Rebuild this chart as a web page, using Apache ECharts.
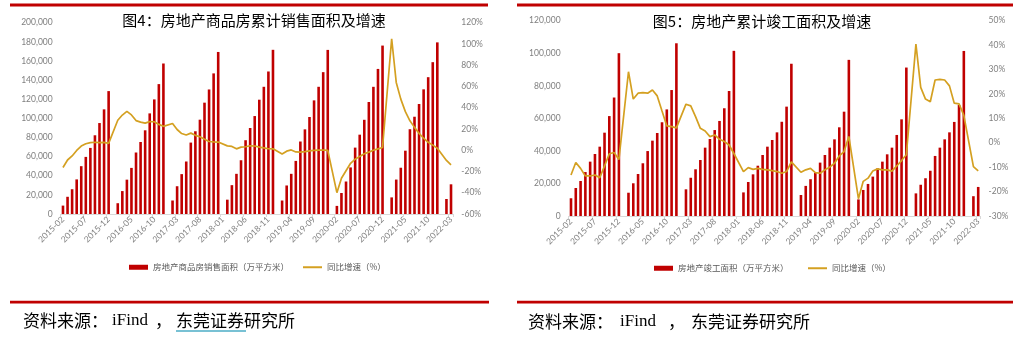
<!DOCTYPE html>
<html>
<head>
<meta charset="utf-8">
<script src="https://cdn.jsdelivr.net/npm/echarts@6/dist/echarts.min.js"></script>
<style>
  html, body { margin: 0; padding: 0; background: #ffffff; }
  #chart { width: 1023px; height: 337px; }
</style>
</head>
<body>
<div id="chart"></div>
<script>
// Monthly categories 2015-02 .. 2022-03 (January is reported together with February, so it stays empty)
const months = [];
for (let y = 2015; y <= 2022; y++) {
  for (let m = 1; m <= 12; m++) {
    if (y === 2015 && m < 2) continue;
    if (y === 2022 && m > 3) break;
    months.push(y + '-' + (m < 10 ? '0' + m : m));
  }
}

// 图4: 商品房累计销售面积 (万平方米)
const salesArea = [
  8786, 18000, 25900, 36178, 50000, 59700, 69100, 82300, 95100, 109400, 128495,
  null,
  11285, 23969, 35900, 48200, 64302, 75300, 87500, 105185, 119800, 135806, 157349,
  null,
  14112, 29035, 41700, 54900, 74662, 86500, 98600, 116400, 130200, 147000, 169408,
  null,
  14981, 30158, 42000, 56200, 77143, 89900, 102400, 119500, 133000, 149000, 171654,
  null,
  14102, 29829, 42000, 55500, 75786, 88500, 101400, 118800, 133000, 148300, 171558,
  null,
  8475, 21978, 33973, 48703, 69404, 82939, 98486, 117073, 132970, 151674, 176086,
  null,
  17363, 36007, 48378, 66194, 88635, 101693, 115005, 130332, 143041, 158730, 179433,
  null,
  15703, 31046
];
// 图4: 同比增速 (%)
const salesYoY = [
  -16.3, -9.2, -5.4, -0.2, 3.9, 6.1, 7.2, 7.5, 7.2, 7.4, 6.5,
  null,
  28.2, 33.1, 36.5, 33.2, 27.9, 26.4, 25.5, 26.9, 26.8, 24.3, 22.5,
  null,
  25.1, 19.5, 15.7, 14.3, 16.1, 14.0, 12.7, 10.3, 8.2, 7.9, 7.7,
  null,
  4.1, 3.6, 1.3, 2.9, 3.3, 4.2, 4.0, 2.9, 2.2, 1.4, 1.3,
  null,
  -3.6, -0.9, 0.3, -1.6, -1.8, -1.3, -0.6, -0.1, 0.1, 0.2, -0.1,
  null,
  -39.9, -26.3, -19.3, -12.3, -8.4, -5.8, -3.3, -1.8, 0.0, 1.3, 2.6,
  null,
  104.9, 63.8, 48.1, 36.3, 27.7, 21.5, 15.9, 11.3, 7.5, 4.8, 1.9,
  null,
  -9.6, -13.8
];

// 图5: 房地产累计竣工面积 (万平方米)
const completedArea = [
  10900, 17200, 21500, 27000, 33400, 38100, 42600, 51200, 61400, 72800, 100039,
  null,
  14300, 20100, 25800, 32400, 39900, 46300, 51000, 57600, 65500, 77400, 106128,
  null,
  16400, 23500, 28700, 34400, 42000, 47300, 52800, 58400, 66200, 76800, 101486,
  null,
  14500, 20900, 25600, 30900, 37500, 42600, 46700, 51400, 57900, 67200, 93550,
  null,
  12900, 18500, 22600, 26600, 32800, 37500, 42000, 47100, 54500, 64100, 95942,
  null,
  10200, 16000, 19700, 24200, 29300, 33400, 37900, 42000, 49800, 59400, 91218,
  null,
  13900, 19200, 23200, 27800, 36900, 42000, 47100, 51400, 57800, 68200, 101412,
  null,
  12167, 17855
];
// 图5: 同比增速 (%)
const completedYoY = [
  -13.2, -8.1, -10.5, -13.6, -13.6, -13.2, -14.3, -9.5, -4.5, -4.0, -6.9,
  null,
  29.1, 17.9, 20.3, 20.5, 20.3, 21.6, 19.2, 13.0, 6.9, 6.6, 6.1,
  null,
  15.8, 15.1, 10.7, 5.9, 4.8, 2.5, 3.2, 1.4, 0.5, -0.9, -4.4,
  null,
  -11.8, -10.2, -10.9, -10.5, -10.9, -11.1, -11.4, -11.8, -12.5, -11.8, -7.8,
  null,
  -12.1, -11.1, -10.5, -12.2, -12.5, -11.1, -10.0, -8.4, -5.4, -3.6, 2.6,
  null,
  -22.9, -15.8, -14.5, -11.6, -10.7, -11.1, -11.1, -11.6, -9.5, -7.3, -4.9,
  null,
  40.4, 22.7, 17.9, 16.8, 25.7, 26.0, 25.7, 23.3, 16.2, 15.9, 11.2,
  null,
  -9.8, -11.5
];

const titles = ['图4：房地产商品房累计销售面积及增速', '图5：房地产累计竣工面积及增速'];
const barNames = ['房地产商品房销售面积（万平方米）', '房地产竣工面积（万平方米）'];
const lineName = '同比增速（%）';

const RED = '#c00000';
const GOLD = '#d4a021';
const LABEL = '#7f7f7f';
const NUM_FONT = 'Lato, "Liberation Sans", sans-serif';
const CJK_FONT = '"Noto Sans CJK SC", sans-serif';
const SERIF = '"Liberation Serif", "Noto Sans CJK SC", serif';

function catAxis(gridIndex) {
  return {
    type: 'category', gridIndex: gridIndex, data: months,
    axisLine: { lineStyle: { color: '#d9d9d9', width: 1 } },
    axisTick: { show: true, interval: 4, length: 3, lineStyle: { color: '#d9d9d9' } },
    axisLabel: { interval: 4, rotate: 45, fontSize: 8.5, color: LABEL, fontFamily: NUM_FONT, margin: 4 },
    splitLine: { show: false }
  };
}
function valAxis(gridIndex, min, max, step, pos, pct) {
  return {
    type: 'value', gridIndex: gridIndex, min: min, max: max, interval: step, position: pos,
    axisLine: { show: false }, axisTick: { show: false }, splitLine: { show: false },
    axisLabel: { fontSize: 8.5, color: LABEL, fontFamily: NUM_FONT, margin: 8,
                 formatter: pct ? '{value}%' : '{value}' }
  };
}
function legendItem(name, left, top, h) {
  return {
    data: [{ name: name, icon: 'rect' }], left: left, top: top, padding: 0,
    itemWidth: 19, itemHeight: h, selectedMode: false,
    textStyle: { fontSize: 8.5, color: '#595959', fontFamily: CJK_FONT }
  };
}
function textEl(x, y, text, size, fill, font, align) {
  return {
    type: 'text', x: x, y: y, silent: true,
    style: { text: text, fill: fill, font: size + 'px ' + font,
             align: align || 'left', verticalAlign: 'middle',
             textAlign: align || 'left', textVerticalAlign: 'middle' }
  };
}
function rectEl(x, y, w, h, fill) {
  return { type: 'rect', silent: true, shape: { x: x, y: y, width: w, height: h }, style: { fill: fill } };
}

const chart = echarts.init(document.getElementById('chart'), null, { renderer: 'canvas' });
chart.setOption({
  animation: false,
  backgroundColor: '#ffffff',
  grid: [
    { left: 60.7, top: 22.7, width: 392.6, height: 191.3 },
    { left: 568.6, top: 20.7, width: 412, height: 195.3 }
  ],
  xAxis: [catAxis(0), catAxis(1)],
  yAxis: [
    valAxis(0, 0, 200000, 20000, 'left', false),
    valAxis(0, -60, 120, 20, 'right', true),
    valAxis(1, 0, 120000, 20000, 'left', false),
    valAxis(1, -30, 50, 10, 'right', true)
  ],
  legend: [
    legendItem(barNames[0], 129, 263, 5),
    legendItem(lineName, 303, 263, 2),
    legendItem(barNames[1], 654, 264, 5),
    legendItem(lineName, 808, 264, 2)
  ],
  series: [
    { name: barNames[0], type: 'bar', xAxisIndex: 0, yAxisIndex: 0, data: salesArea,
      barWidth: 2.6, itemStyle: { color: RED } },
    { name: lineName, type: 'line', xAxisIndex: 0, yAxisIndex: 1, data: salesYoY,
      connectNulls: true, symbol: 'none', lineStyle: { color: GOLD, width: 1.7 }, itemStyle: { color: GOLD } },
    { name: barNames[1], type: 'bar', xAxisIndex: 1, yAxisIndex: 2, data: completedArea,
      barWidth: 2.6, itemStyle: { color: RED } },
    { name: lineName, type: 'line', xAxisIndex: 1, yAxisIndex: 3, data: completedYoY,
      connectNulls: true, symbol: 'none', lineStyle: { color: GOLD, width: 1.7 }, itemStyle: { color: GOLD } }
  ],
  graphic: [
    // header rules
    rectEl(10, 3.5, 478, 3, RED),
    rectEl(517, 3.5, 496, 3, RED),
    // footer rules
    rectEl(10, 300.8, 479, 2.6, RED),
    rectEl(517, 300.8, 496, 2.6, RED),
    // chart titles
    textEl(254, 20, titles[0], 15, '#000000', CJK_FONT, 'center'),
    textEl(762, 21, titles[1], 15, '#000000', CJK_FONT, 'center'),
    // source notes
    textEl(23, 321, '资料来源：', 17, '#000000', CJK_FONT),
    textEl(112, 321, 'iFind', 17, '#000000', SERIF),
    textEl(155, 321, '，', 17, '#000000', CJK_FONT),
    textEl(176, 321, '东莞证券研究所', 17, '#000000', CJK_FONT),
    { type: 'line', silent: true, shape: { x1: 176, y1: 331, x2: 246, y2: 331 },
      style: { stroke: '#4bacc6', lineWidth: 1.5 } },
    textEl(528, 322, '资料来源：', 17, '#000000', CJK_FONT),
    textEl(620, 322, 'iFind', 17, '#000000', SERIF),
    textEl(668, 322, '，', 17, '#000000', CJK_FONT),
    textEl(691, 322, '东莞证券研究所', 17, '#000000', CJK_FONT)
  ]
});
</script>
</body>
</html>
